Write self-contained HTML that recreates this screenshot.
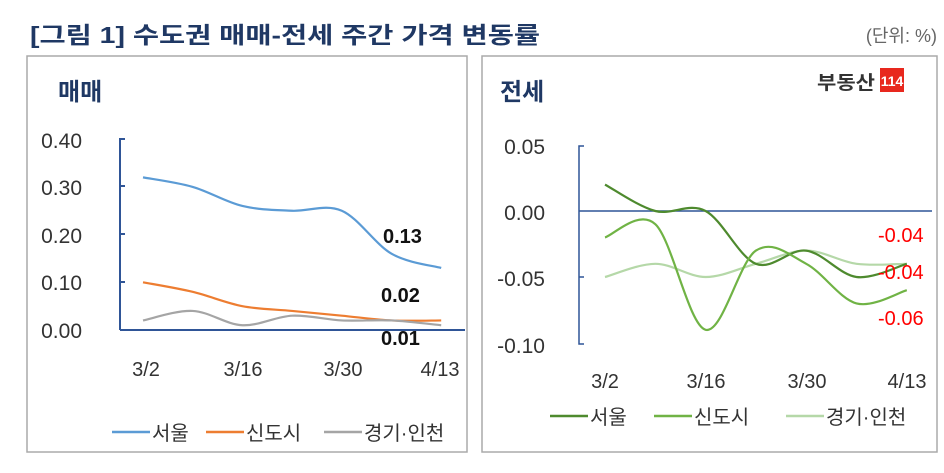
<!DOCTYPE html><html><head><meta charset="utf-8"><style>
body{margin:0;width:944px;height:468px;background:#fff;overflow:hidden;font-family:"Liberation Sans","Noto Sans CJK KR",sans-serif}
</style></head><body>
<svg width="944" height="468" xmlns="http://www.w3.org/2000/svg" font-family="Liberation Sans, Noto Sans CJK KR, sans-serif">
<text x="30" y="43" font-size="23" font-weight="bold" fill="#1f3864" textLength="510" lengthAdjust="spacingAndGlyphs">[그림 1] 수도권 매매-전세 주간 가격 변동률</text>
<text x="937" y="42" font-size="18" fill="#666" text-anchor="end">(단위: %)</text>
<rect x="27" y="56" width="440" height="396" fill="none" stroke="#aaa" stroke-width="1.5"/>
<rect x="482" y="56" width="455" height="396" fill="none" stroke="#aaa" stroke-width="1.5"/>
<text x="58" y="100" font-size="24" font-weight="bold" fill="#1f3864">매매</text>
<text x="500" y="100" font-size="24" font-weight="bold" fill="#1f3864">전세</text>
<text x="817" y="89" font-size="19" font-weight="bold" fill="#333" textLength="58" lengthAdjust="spacingAndGlyphs">부동산</text>
<rect x="880" y="68" width="24" height="24" fill="#e8281e"/>
<text x="892" y="86" font-size="14" font-weight="bold" fill="#fff" text-anchor="middle">114</text>
<g font-size="21" fill="#333" text-anchor="end">
<text x="82" y="148">0.40</text><text x="82" y="195">0.30</text><text x="82" y="243">0.20</text><text x="82" y="290">0.10</text><text x="82" y="338">0.00</text>
<text x="545" y="154">0.05</text><text x="545" y="220">0.00</text><text x="545" y="286">-0.05</text><text x="545" y="353">-0.10</text>
</g>
<g font-size="20" fill="#333" text-anchor="middle">
<text x="146" y="376">3/2</text><text x="243" y="376">3/16</text><text x="343" y="376">3/30</text><text x="440" y="376">4/13</text>
<text x="605" y="388">3/2</text><text x="706" y="388">3/16</text><text x="807" y="388">3/30</text><text x="907" y="388">4/13</text>
</g>
<path d="M125,139H120V330M120,186H125M120,234H125M120,282H125M120,330H465" stroke="#2f5597" stroke-width="2" fill="none"/>
<path d="M584,146H579V344H584M579,277H584M579,211H932" stroke="#2f5597" stroke-width="1.5" fill="none"/>
<g id="lines" fill="none" stroke-width="2.2"></g>
<g font-size="20" font-weight="bold" fill="#111">
<text x="383" y="243">0.13</text><text x="381" y="302">0.02</text><text x="381" y="345">0.01</text>
</g>
<g font-size="20" fill="#f00">
<text x="878" y="242">-0.04</text><text x="878" y="279">-0.04</text><text x="878" y="325">-0.06</text>
</g>
<g font-size="20" fill="#333">
<line x1="112" y1="432" x2="150" y2="432" stroke="#5b9bd5" stroke-width="2.5"/><text x="152" y="440">서울</text>
<line x1="206" y1="432" x2="244" y2="432" stroke="#ed7d31" stroke-width="2.5"/><text x="246" y="440">신도시</text>
<line x1="324" y1="432" x2="362" y2="432" stroke="#a5a5a5" stroke-width="2.5"/><text x="364" y="440">경기·인천</text>
<line x1="550" y1="416" x2="588" y2="416" stroke="#4e8a2e" stroke-width="2.5"/><text x="590" y="424">서울</text>
<line x1="654" y1="416" x2="692" y2="416" stroke="#70b345" stroke-width="2.5"/><text x="694" y="424">신도시</text>
<line x1="786" y1="416" x2="824" y2="416" stroke="#b5d8a8" stroke-width="2.5"/><text x="826" y="424">경기·인천</text>
</g>
</svg>
<script>
function path(xs,ys){let p="M"+xs[0]+","+ys[0];for(let i=0;i<xs.length-1;i++){const x0=xs[Math.max(i-1,0)],y0=ys[Math.max(i-1,0)],x1=xs[i],y1=ys[i],x2=xs[i+1],y2=ys[i+1],x3=xs[Math.min(i+2,xs.length-1)],y3=ys[Math.min(i+2,xs.length-1)];p+=" C"+(x1+(x2-x0)/6)+","+(y1+(y2-y0)/6)+" "+(x2-(x3-x1)/6)+","+(y2-(y3-y1)/6)+" "+x2+","+y2;}return p;}
const g=document.getElementById("lines");
function add(x0,dx,y0,sc,vals,col){const xs=vals.map((v,i)=>x0+i*dx),ys=vals.map(v=>y0-v*sc);const e=document.createElementNS("http://www.w3.org/2000/svg","path");e.setAttribute("d",path(xs,ys));e.setAttribute("stroke",col);g.appendChild(e);}
const L=477;
add(143,49.7,330,L,[0.32,0.30,0.26,0.25,0.25,0.16,0.13],"#5b9bd5");
add(143,49.7,330,L,[0.10,0.08,0.05,0.04,0.03,0.02,0.02],"#ed7d31");
add(143,49.7,330,L,[0.02,0.04,0.01,0.03,0.02,0.02,0.01],"#a5a5a5");
const R=1320;
add(605,50.3,211,R,[-0.05,-0.04,-0.05,-0.04,-0.03,-0.04,-0.04],"#b5d8a8");
add(605,50.3,211,R,[0.02,0.00,0.00,-0.04,-0.03,-0.05,-0.04],"#4e8a2e");
add(605,50.3,211,R,[-0.02,-0.01,-0.09,-0.03,-0.04,-0.07,-0.06],"#70b345");
</script>
</body></html>
